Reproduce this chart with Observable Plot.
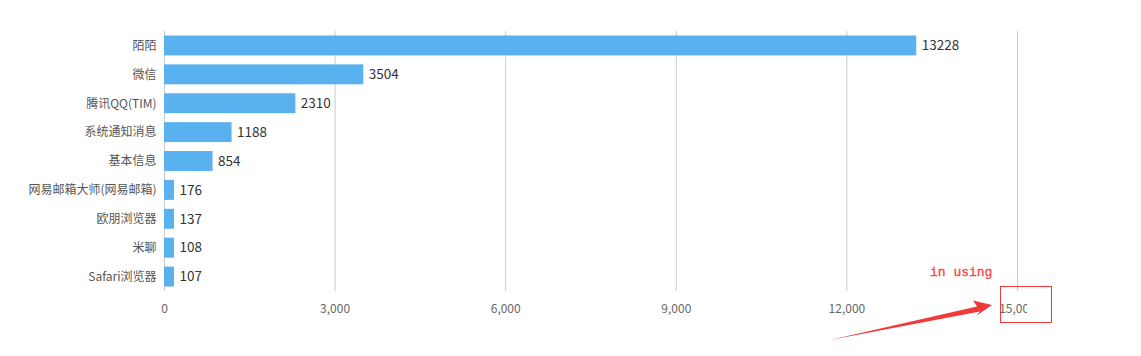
<!DOCTYPE html>
<html>
<head>
<meta charset="utf-8">
<script src="https://cdn.jsdelivr.net/npm/d3@7"></script>
<script src="https://cdn.jsdelivr.net/npm/@observablehq/plot@0.6"></script>
<style>
  html, body { margin: 0; padding: 0; background: #fff; }
  #wrap { position: relative; width: 1141px; height: 356px; }
  #chart { position: absolute; left: 0; top: 0; width: 1027px; height: 356px; overflow: hidden; }
  #chart svg { max-width: none !important; width: 1141px; height: 356px; }
  #overlay { position: absolute; left: 0; top: 0; pointer-events: none; }
</style>
</head>
<body>
<div id="wrap">
  <div id="chart"></div>
  <svg id="overlay" width="1141" height="356">
    <text x="930" y="276" fill="#ff4040" font-family="'Liberation Mono', 'DejaVu Sans Mono', monospace" font-size="13" stroke="#ff4040" stroke-width="0.3">in using</text>
    <polygon fill="#f03a3a" points="830,340 980,311.5 976,316 992,305 973,300.5 977,306.5"/>
    <rect x="1000.5" y="286.5" width="51" height="36" fill="none" stroke="#f03a3a" stroke-width="1"/>
  </svg>
</div>
<script>
const categories = ["陌陌", "微信", "腾讯QQ(TIM)", "系统通知消息", "基本信息", "网易邮箱大师(网易邮箱)", "欧朋浏览器", "米聊", "Safari浏览器"];
const values = [13228, 3504, 2310, 1188, 854, 176, 137, 108, 107];
const xTicks = [0, 3000, 6000, 9000, 12000, 15000];

const data = categories.map((c, i) => ({category: c, value: values[i]}));

const W = 1141, H = 356;
const mL = 164, mR = 124;
const xMax = 15000;
const barMinPx = 10;
const minVal = barMinPx * xMax / (W - mL - mR);

const font = "'Microsoft YaHei', 'Noto Sans CJK SC', 'Noto Sans', sans-serif";

const chart = Plot.plot({
  width: W,
  height: H,
  marginLeft: mL,
  marginRight: mR,
  marginTop: 31,
  marginBottom: 65,
  style: {fontFamily: font, background: "#fff", maxWidth: "none"},
  x: {domain: [0, xMax], axis: null},
  y: {domain: categories, paddingInner: 0.31, paddingOuter: 0.155, round: false, axis: null},
  marks: [
    Plot.gridX(xTicks, {stroke: "#cccccc", strokeOpacity: 1}),
    Plot.ruleX([0], {stroke: "#cccccc"}),
    Plot.barX(data, {
      y: "category",
      x1: 0,
      x2: d => Math.max(d.value, minVal),
      fill: "#5ab1ef"
    }),
    Plot.text(data, {
      y: "category",
      x: d => Math.max(d.value, minVal),
      text: d => String(d.value),
      textAnchor: "start",
      dx: 5,
      fontSize: 13.5,
      fill: "#333"
    }),
    Plot.axisY({
      domain: categories,
      tickSize: 0,
      tickPadding: 8,
      fontSize: 12,
      color: "#555",
      label: null
    }),
    Plot.axisX(xTicks, {
      tickSize: 0,
      tickPadding: 13,
      tickFormat: d3.format(","),
      fontSize: 12,
      color: "#666",
      label: null
    })
  ]
});

document.getElementById("chart").appendChild(chart);
</script>
</body>
</html>
